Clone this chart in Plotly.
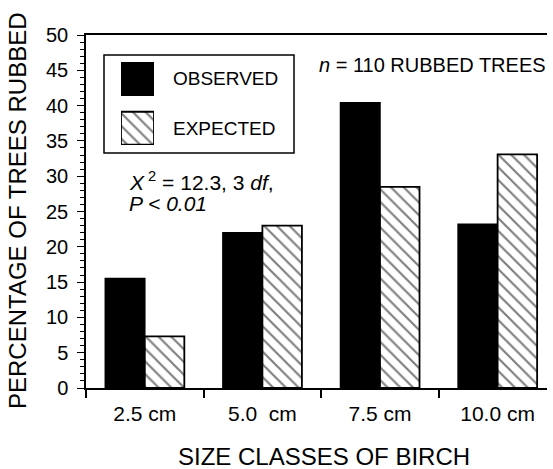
import plotly.graph_objects as go

categories = ["2.5 cm", "5.0  cm", "7.5 cm", "10.0 cm"]
observed = [15.5, 22.0, 40.4, 23.2]
expected = [7.3, 23.0, 28.5, 33.1]
series_names = ["OBSERVED", "EXPECTED"]
y_title = "PERCENTAGE OF TREES RUBBED"
x_title = "SIZE CLASSES OF BIRCH"
note_n = "<i>n</i> = 110 RUBBED TREES"
note_chi = "<i>X</i><sup> 2</sup> = 12.3, 3 <i>df</i>,"
note_p = "<i>P &lt; 0.01</i>"

FONT = "Liberation Sans, Arial, Helvetica, sans-serif"
hatch = dict(shape="\\", fgcolor="black", bgcolor="white", size=9, solidity=0.24)

fig = go.Figure()
fig.add_trace(go.Bar(x=categories, y=observed, name=series_names[0],
                     marker=dict(color="black", line=dict(color="black", width=1.5)),
                     showlegend=False))
fig.add_trace(go.Bar(x=categories, y=expected, name=series_names[1],
                     marker=dict(color="white", pattern=hatch,
                                 line=dict(color="black", width=1.8)),
                     showlegend=False))

# legend swatches drawn on a small auxiliary axis
fig.add_trace(go.Bar(x=[1], y=[1], orientation="h", width=0.667, base=0,
                     xaxis="x2", yaxis="y2", cliponaxis=False, showlegend=False,
                     marker=dict(color="black", line=dict(color="black", width=1.5)),
                     hoverinfo="skip"))
fig.add_trace(go.Bar(x=[1], y=[0], orientation="h", width=0.667, base=0,
                     xaxis="x2", yaxis="y2", cliponaxis=False, showlegend=False,
                     marker=dict(color="white", pattern=hatch,
                                 line=dict(color="black", width=1.8)),
                     hoverinfo="skip"))

W, H = 553, 469
L, R, T, B = 86, 6, 35, 81
pw, ph = W - L - R, H - T - B

def px(x):
    return (x - L) / pw

def py(y):
    return (H - B - y) / ph

fig.update_layout(
    width=W, height=H,
    margin=dict(l=L, r=R, t=T, b=B),
    paper_bgcolor="white", plot_bgcolor="white",
    font=dict(family=FONT, color="black", size=18),
    barmode="group", bargap=0.328, bargroupgap=0,
    xaxis=dict(type="category", range=[-0.5, 3.42], tickson="boundaries",
               ticks="outside", ticklen=8, tickwidth=1.5, tickcolor="black",
               showline=True, linecolor="black", linewidth=1.5, mirror=True,
               showgrid=False, zeroline=False, tickfont=dict(size=21),
               ticklabelstandoff=6),
    yaxis=dict(range=[0, 50], dtick=5, ticks="outside", ticklen=7, tickwidth=1.2,
               tickcolor="black", showline=True, linecolor="black", linewidth=1.5,
               showgrid=False, zeroline=False, tickfont=dict(size=20),
               ticklabelstandoff=5,
               minor=dict(dtick=1, ticks="outside", ticklen=4, tickcolor="black",
                          tickwidth=1, showgrid=False)),
    xaxis2=dict(domain=[px(121), px(154)], range=[0, 1], visible=False,
                anchor="y2", fixedrange=True),
    yaxis2=dict(domain=[py(145), py(62)], range=[-0.3384, 1.3384], visible=False,
                anchor="x2", fixedrange=True),
    shapes=[dict(type="rect", xref="paper", yref="paper",
                 x0=px(104), x1=px(294), y0=py(153), y1=py(55),
                 line=dict(color="black", width=1.5), fillcolor="rgba(0,0,0,0)",
                 layer="below")],
    annotations=[
        dict(text=series_names[0], xref="paper", yref="paper", x=px(171), y=py(78),
             xanchor="left", yanchor="middle", showarrow=False, font=dict(size=19)),
        dict(text=series_names[1], xref="paper", yref="paper", x=px(171), y=py(128),
             xanchor="left", yanchor="middle", showarrow=False, font=dict(size=19)),
        dict(text=note_n, xref="paper", yref="paper", x=px(317), y=py(65),
             xanchor="left", yanchor="middle", showarrow=False, font=dict(size=20)),
        dict(text=note_chi, xref="paper", yref="paper", x=px(127), y=py(181),
             xanchor="left", yanchor="middle", showarrow=False, font=dict(size=21)),
        dict(text=note_p, xref="paper", yref="paper", x=px(127), y=py(203),
             xanchor="left", yanchor="middle", showarrow=False, font=dict(size=21)),
        dict(text=y_title, xref="paper", yref="paper", x=px(17), y=py(211),
             xanchor="center", yanchor="middle", textangle=-90, showarrow=False,
             font=dict(size=24)),
        dict(text=x_title, xref="paper", yref="paper", x=px(324), y=py(456),
             xanchor="center", yanchor="middle", showarrow=False,
             font=dict(size=24)),
    ],
)

fig.write_html("out.html", config={"displayModeBar": False},
               post_script="document.body.style.margin='0px';document.body.style.overflow='hidden';")
